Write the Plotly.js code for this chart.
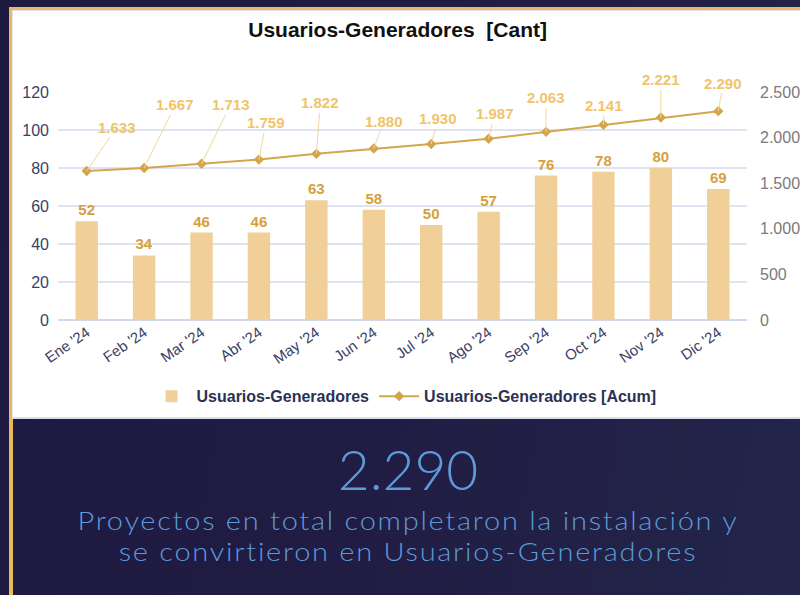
<!DOCTYPE html>
<html><head><meta charset="utf-8">
<script src="https://cdn.plot.ly/plotly-3.0.1.min.js"></script>
<style>
html,body{margin:0;padding:0;width:800px;height:595px;overflow:hidden;}
body{background:linear-gradient(100deg,#1e1940 0%,#211c43 50%,#23254a 100%);position:relative;font-family:"Lato",sans-serif;}
#stripeL{position:absolute;left:9px;top:7px;width:4px;height:588px;background:#e9b95c;}
#stripeT{position:absolute;left:9px;top:7px;width:791px;height:3px;background:#e9b95c;}
#panel{position:absolute;left:12px;top:10px;width:788px;height:409px;background:#fff;border-top:1px solid #e3e3f2;border-left:1px solid #e3e3f2;border-bottom:2px solid #dcdcee;box-sizing:border-box;}
#chart{position:absolute;left:0;top:0;width:800px;height:595px;}
.txt{position:absolute;left:8px;width:800px;text-align:center;color:#5b9bd8;font-family:"Lato",sans-serif;font-weight:300;white-space:nowrap;}
#big{top:436px;font-size:55px;line-height:66px;letter-spacing:0px;}
#sub1{top:505px;font-size:25px;line-height:30px;letter-spacing:1.5px;transform:scaleX(1.16);transform-origin:400px 50%;}
#sub2{top:536px;font-size:25px;line-height:30px;letter-spacing:1.5px;transform:scaleX(1.16);transform-origin:400px 50%;}
</style></head>
<body>
<div id="stripeL"></div><div id="stripeT"></div><div id="panel"></div>
<div id="chart"></div>
<div id="big" class="txt">2.290</div>
<div id="sub1" class="txt">Proyectos en total completaron la instalación y</div>
<div id="sub2" class="txt">se convirtieron en Usuarios-Generadores</div>
<script>
const months = ["Ene '24","Feb '24","Mar '24","Abr '24","May '24","Jun '24","Jul '24","Ago '24","Sep '24","Oct '24","Nov '24","Dic '24"];
const monthly = [52,34,46,46,63,58,50,57,76,78,80,69];
const cumulative = [1633,1667,1713,1759,1822,1880,1930,1987,2063,2141,2221,2290];
const leftTicks = [0,20,40,60,80,100,120];
const rightTicks = [0,500,1000,1500,2000,2500];
// label offsets for the cumulative callouts (pixels)
const labelOffsets = [[30,-44],[31,-63],[29,-59],[7,-37],[4,-51],[10,-27],[7,-25],[6,-25],[0,-34],[1,-19],[0,-38],[5,-28]];

function fmt(n){return String(n).replace(/\B(?=(\d{3})+(?!\d))/g,'.');}

const bars = {
  type:'bar', x:months, y:monthly, name:'Usuarios-Generadores',
  marker:{color:'#f0cf98'}, width:0.39,
  text:monthly.map(String), textposition:'outside', cliponaxis:false,
  textfont:{family:'Liberation Sans, Arial, sans-serif', size:15, color:'#d6a03c', weight:'bold'},
  hoverinfo:'none'
};
const line = {
  type:'scatter', mode:'lines+markers', x:months, y:cumulative, yaxis:'y2',
  name:'Usuarios-Generadores [Acum]',
  line:{color:'#d3a64c', width:2}, marker:{symbol:'diamond', size:8, color:'#d3a64c'},
  hoverinfo:'none', cliponaxis:false
};

const annotations = cumulative.map((v,i)=>({
  x:months[i], y:v, xref:'x', yref:'y2', text:fmt(v),
  showarrow:true, arrowhead:0, arrowwidth:1, arrowcolor:'#f3d79c',
  ax:labelOffsets[i][0], ay:labelOffsets[i][1], standoff:0, startstandoff:0,
  font:{family:'Liberation Sans, Arial, sans-serif', size:15, color:'#efc46b', weight:'bold'}
}));

const layout = {
  width:800, height:595,
  paper_bgcolor:'rgba(0,0,0,0)', plot_bgcolor:'rgba(0,0,0,0)',
  margin:{l:58, r:53, t:92, b:275},
  separators:',.',
  title:{text:'Usuarios-Generadores  [Cant]', x:0.497, xanchor:'center', y:0.951, yanchor:'middle',
    font:{family:'Liberation Sans, Arial, sans-serif', size:21, color:'#111111', weight:'bold'}},
  font:{family:'Liberation Sans, Arial, sans-serif'},
  xaxis:{type:'category', range:[-0.5,11.5], tickangle:-35, showgrid:false, zeroline:false, showline:false, ticks:'',
    tickfont:{size:15, color:'#3a4166'}, fixedrange:true},
  yaxis:{range:[0,120], tickvals:leftTicks, gridcolor:'#dfe2f1', gridwidth:1.3, zeroline:true, zerolinecolor:'#d3d7ec', zerolinewidth:1.5,
    showline:false, ticks:'', ticklabelstandoff:8, tickfont:{size:16, color:'#3a4166'}, fixedrange:true},
  yaxis2:{range:[0,2500], tickvals:rightTicks, tickformat:',d', overlaying:'y', side:'right', showgrid:false, zeroline:false,
    showline:false, ticks:'', ticklabelstandoff:12, tickfont:{size:16, color:'#7a7a7a'}, fixedrange:true},
  showlegend:true,
  legend:{orientation:'h', x:0.505, xanchor:'center', xref:'container', y:0.334, yref:'container', yanchor:'middle',
    font:{size:16, color:'#2b3156', weight:'bold'}, itemwidth:40, bgcolor:'rgba(0,0,0,0)', traceorder:'normal'},
  annotations:annotations
};
Plotly.newPlot('chart',[bars,line],layout,{displayModeBar:false, staticPlot:true});
</script>
</body></html>
